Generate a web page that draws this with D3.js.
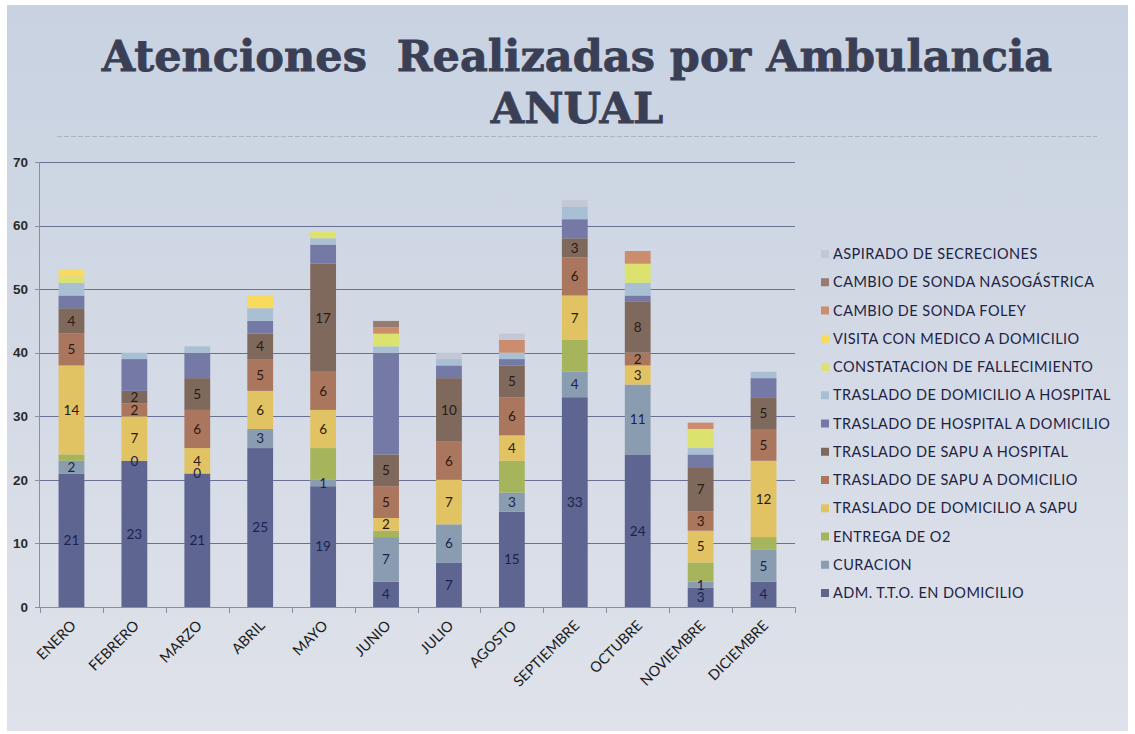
<!DOCTYPE html>
<html>
<head>
<meta charset="utf-8">
<script src="https://cdn.jsdelivr.net/npm/d3@7"></script>
<style>
  body { margin: 0; background: #ffffff; }
  svg { display: block; }
  .title { font-family: "DejaVu Serif", serif; font-weight: bold; fill: #3a3f56; stroke: #3a3f56; stroke-width: 0.8px; }
  .tick-y { font-family: "Liberation Sans", sans-serif; font-weight: bold; font-size: 13.5px; fill: #2a2a2a; }
  .month { font-family: Lato, sans-serif; font-size: 14.5px; fill: #1a1a1a; }
  .legend { font-family: Lato, sans-serif; font-size: 14.5px; letter-spacing: 0.45px; fill: #1d2345; }
  .seg-label { font-family: Lato, sans-serif; font-size: 13.5px; }
</style>
</head>
<body>
<div id="wrapper"></div>
<script>
// data, bottom series first
const months = ["ENERO", "FEBRERO", "MARZO", "ABRIL", "MAYO", "JUNIO", "JULIO",
  "AGOSTO", "SEPTIEMBRE", "OCTUBRE", "NOVIEMBRE", "DICIEMBRE"];

const seriesNames = [
  "ADM. T.T.O. EN DOMICILIO",
  "CURACION",
  "ENTREGA DE O2",
  "TRASLADO DE DOMICILIO A SAPU",
  "TRASLADO DE SAPU A DOMICILIO",
  "TRASLADO DE SAPU A HOSPITAL",
  "TRASLADO DE HOSPITAL A DOMICILIO",
  "TRASLADO DE DOMICILIO A HOSPITAL",
  "CONSTATACION DE FALLECIMIENTO",
  "VISITA CON MEDICO A DOMICILIO",
  "CAMBIO DE SONDA FOLEY",
  "CAMBIO DE SONDA NASOGÁSTRICA",
  "ASPIRADO DE SECRECIONES"
];

const admTto       = [21, 23, 21, 25, 19, 4, 7, 15, 33, 24, 3, 4];
const curacion     = [2, 0, 0, 3, 1, 7, 6, 3, 4, 11, 1, 5];
const entregaO2    = [1, null, null, null, 5, 1, null, 5, 5, null, 3, 2];
const domSapu      = [14, 7, 4, 6, 6, 2, 7, 4, 7, 3, 5, 12];
const sapuDom      = [5, 2, 6, 5, 6, 5, 6, 6, 6, 2, 3, 5];
const sapuHosp     = [4, 2, 5, 4, 17, 5, 10, 5, 3, 8, 7, 5];
const hospDom      = [2, 5, 4, 2, 3, 16, 2, 1, 3, 1, 2, 3];
const domHosp      = [2, 1, 1, 2, 1, 1, 1, 1, 2, 2, 1, 1];
const constatacion = [1, null, null, null, 1, 2, null, null, null, 3, 3, null];
const visita       = [1, null, null, 2, null, null, null, null, null, null, null, null];
const foley        = [null, null, null, null, null, 1, null, 2, null, 2, 1, null];
const nasogastrica = [null, null, null, null, null, 1, null, null, null, null, null, null];
const aspirado     = [null, null, null, null, null, null, 1, 1, 1, null, null, null];

const seriesValues = [admTto, curacion, entregaO2, domSapu, sapuDom, sapuHosp,
  hospDom, domHosp, constatacion, visita, foley, nasogastrica, aspirado];

const colors = ["#5d6590", "#8a9db0", "#a6b55c", "#e2c364", "#ab765e", "#7f695c",
  "#7479a6", "#a9bfd4", "#dbe36e", "#f7da5e", "#cc8d6e", "#957b70", "#c4c8d6"];

// only these series carry value labels
const labelledSeries = [0, 1, 3, 4, 5];

const yTicks = [0, 10, 20, 30, 40, 50, 60, 70];

// dimensions
const dimensions = {
  width: 1135,
  height: 734,
  margin: { top: 162, left: 40 },
  boundedWidth: 755,
  boundedHeight: 445
};

const svg = d3.select("#wrapper").append("svg")
  .attr("width", dimensions.width)
  .attr("height", dimensions.height);

// slide background
const defs = svg.append("defs");
const grad = defs.append("linearGradient")
  .attr("id", "bg").attr("x1", 0).attr("y1", 0).attr("x2", 0).attr("y2", 1);
grad.append("stop").attr("offset", "0%").attr("stop-color", "#c8d2e1");
grad.append("stop").attr("offset", "100%").attr("stop-color", "#dfe2ea");

svg.append("rect")
  .attr("x", 7).attr("y", 5)
  .attr("width", 1121).attr("height", 726)
  .attr("fill", "url(#bg)");

// title
const title = svg.append("g");
title.append("text")
  .attr("class", "title")
  .attr("x", 577).attr("y", 71)
  .attr("text-anchor", "middle")
  .attr("font-size", 43)
  .attr("xml:space", "preserve")
  .text("Atenciones  Realizadas por Ambulancia");
title.append("text")
  .attr("class", "title")
  .attr("x", 577).attr("y", 123)
  .attr("text-anchor", "middle")
  .attr("font-size", 43)
  .text("ANUAL");

svg.append("line")
  .attr("x1", 57).attr("x2", 1097)
  .attr("y1", 136.5).attr("y2", 136.5)
  .attr("stroke", "#a3b8c3")
  .attr("stroke-width", 1)
  .attr("stroke-dasharray", "5,2");

// scales
const xScale = d3.scaleBand()
  .domain(months)
  .range([0, dimensions.boundedWidth])
  .paddingInner(0.59)
  .paddingOuter(0.295);

const yScale = d3.scaleLinear()
  .domain([0, 70])
  .range([dimensions.boundedHeight, 0]);

const bounds = svg.append("g")
  .attr("transform", `translate(${dimensions.margin.left}, ${dimensions.margin.top})`);

// gridlines
bounds.append("g")
  .selectAll("line")
  .data(yTicks.filter(d => d > 0))
  .join("line")
  .attr("x1", 0).attr("x2", dimensions.boundedWidth)
  .attr("y1", d => Math.round(yScale(d)) + 0.5)
  .attr("y2", d => Math.round(yScale(d)) + 0.5)
  .attr("stroke", "#6b7193")
  .attr("stroke-width", 1);

// stacked bars
const table = months.map((m, i) => {
  const row = { month: m };
  seriesNames.forEach((s, j) => { row[s] = seriesValues[j][i]; });
  return row;
});

const stack = d3.stack()
  .keys(seriesNames)
  .value((d, key) => d[key] == null ? 0 : d[key]);
const stacked = stack(table);

const layers = bounds.append("g")
  .selectAll("g")
  .data(stacked)
  .join("g")
  .attr("fill", (d, i) => colors[i]);

layers.selectAll("rect")
  .data(d => d.filter(p => p[1] > p[0]))
  .join("rect")
  .attr("x", d => xScale(d.data.month))
  .attr("width", xScale.bandwidth())
  .attr("y", d => yScale(d[1]))
  .attr("height", d => yScale(d[0]) - yScale(d[1]));

// value labels
const labelGroup = bounds.append("g");
labelledSeries.forEach(j => {
  const layer = stacked[j];
  labelGroup.selectAll(null)
    .data(layer.filter(p => p.data[seriesNames[j]] != null))
    .join("text")
    .attr("class", "seg-label")
    .attr("x", d => xScale(d.data.month) + xScale.bandwidth() / 2)
    .attr("y", d => yScale((d[0] + d[1]) / 2))
    .attr("dy", "0.36em")
    .attr("text-anchor", "middle")
    .attr("fill", j < 2 ? "#1b2250" : "#2b1a12")
    .text(d => d.data[seriesNames[j]]);
});

// y axis
const yAxis = bounds.append("g");
yAxis.append("line")
  .attr("x1", -0.5).attr("x2", -0.5)
  .attr("y1", 0).attr("y2", dimensions.boundedHeight)
  .attr("stroke", "#8a8f9c");
yAxis.selectAll(".tk")
  .data(yTicks)
  .join("line")
  .attr("x1", -5).attr("x2", 0)
  .attr("y1", d => Math.round(yScale(d)) + 0.5)
  .attr("y2", d => Math.round(yScale(d)) + 0.5)
  .attr("stroke", "#8a8f9c");
yAxis.selectAll("text")
  .data(yTicks)
  .join("text")
  .attr("class", "tick-y")
  .attr("x", -12)
  .attr("y", d => yScale(d))
  .attr("dy", "0.35em")
  .attr("text-anchor", "end")
  .text(d => d);

// x axis
const xAxis = bounds.append("g")
  .attr("transform", `translate(0, ${dimensions.boundedHeight})`);
xAxis.append("line")
  .attr("x1", 0).attr("x2", dimensions.boundedWidth)
  .attr("y1", 0.5).attr("y2", 0.5)
  .attr("stroke", "#8a8f9c");
const step = xScale.step();
xAxis.selectAll(".tk")
  .data(d3.range(months.length + 1))
  .join("line")
  .attr("x1", i => Math.round(i * step) + 0.5)
  .attr("x2", i => Math.round(i * step) + 0.5)
  .attr("y1", 0).attr("y2", 6)
  .attr("stroke", "#8a8f9c");
xAxis.selectAll("text")
  .data(months)
  .join("text")
  .attr("class", "month")
  .attr("text-anchor", "end")
  .attr("transform", d => `translate(${xScale(d) + xScale.bandwidth() / 2 + 2}, 16) rotate(-45)`)
  .attr("dy", "0.35em")
  .text(d => d);

// legend, top entry is the last series
const legend = svg.append("g")
  .attr("transform", "translate(821, 254)");
const legendRows = seriesNames.slice().reverse();
const legendItem = legend.selectAll("g")
  .data(legendRows)
  .join("g")
  .attr("transform", (d, i) => `translate(0, ${i * 28.25})`);
legendItem.append("rect")
  .attr("x", 0).attr("y", -4)
  .attr("width", 8).attr("height", 8)
  .attr("fill", d => colors[seriesNames.indexOf(d)]);
legendItem.append("text")
  .attr("class", "legend")
  .attr("x", 12)
  .attr("dy", "0.36em")
  .text(d => d);
</script>
</body>
</html>
